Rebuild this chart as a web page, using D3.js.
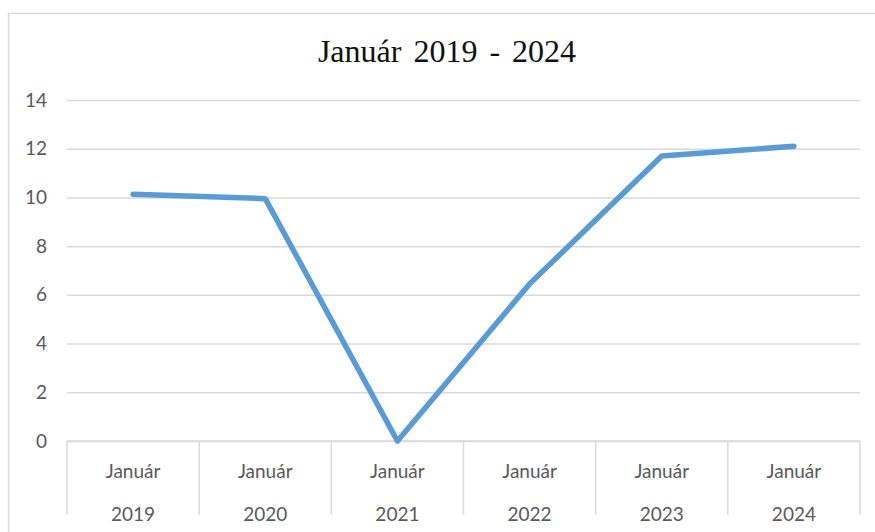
<!DOCTYPE html>
<html>
<head>
<meta charset="utf-8">
<script src="https://cdn.jsdelivr.net/npm/d3@7"></script>
<style>
  html, body { margin: 0; padding: 0; background: #fff; }
  svg { display: block; }
</style>
</head>
<body>
<svg id="chart" width="875" height="532"></svg>
<script>
const title = "Január 2019 - 2024";
const months = ["Január", "Január", "Január", "Január", "Január", "Január"];
const years = ["2019", "2020", "2021", "2022", "2023", "2024"];
const values = [10.13, 9.95, 0, 6.45, 11.7, 12.1];
const yTicks = [0, 2, 4, 6, 8, 10, 12, 14];

const svg = d3.select("#chart");
const W = 875, H = 532;
const mLeft = 67, mRight = 860, mTop = 100, mBottom = 441;
const labelFont = "Lato, 'Open Sans', sans-serif";
const gray = "#595959";
const gridColor = "#d9d9d9";

// chart area border (left + top)
svg.append("path")
  .attr("d", `M8.5,${H} L8.5,13.5 L${W},13.5`)
  .attr("fill", "none").attr("stroke", gridColor).attr("stroke-width", 1.5);

// title
svg.append("text")
  .attr("x", 447).attr("y", 62)
  .attr("text-anchor", "middle")
  .attr("font-family", "'Liberation Serif', 'Times New Roman', serif")
  .attr("font-size", 32)
  .attr("fill", "#111")
  .attr("word-spacing", 4)
  .text(title);

const x = d3.scaleBand().domain(years).range([mLeft, mRight]).padding(0);
const y = d3.scaleLinear().domain([0, 14]).range([mBottom, mTop]);

// gridlines
const yAxis = d3.axisLeft(y).tickValues(yTicks).tickSize(-(mRight - mLeft)).tickPadding(20);
const gy = svg.append("g").attr("transform", `translate(${mLeft},0)`).call(yAxis);
gy.select(".domain").remove();
gy.selectAll(".tick line").attr("stroke", gridColor).attr("stroke-width", 1.5);
gy.selectAll(".tick text")
  .attr("font-family", labelFont).attr("font-size", 19).attr("fill", gray);

// category axis box
const xAxis = d3.axisBottom(x).tickSize(0).tickFormat(() => "");
const gx = svg.append("g").attr("transform", `translate(0,${mBottom})`).call(xAxis);
gx.select(".domain").remove();
gx.append("line").attr("x1", mLeft).attr("x2", mRight).attr("y1", 0).attr("y2", 0)
  .attr("stroke", gridColor).attr("stroke-width", 1.5);
const seps = [mLeft].concat(years.map(d => x(d) + x.bandwidth()));
gx.selectAll("line.sep").data(seps).enter().append("line")
  .attr("class", "sep")
  .attr("x1", d => d).attr("x2", d => d)
  .attr("y1", 0).attr("y2", 74)
  .attr("stroke", gridColor).attr("stroke-width", 1.5);
gx.selectAll("text.m").data(years).enter().append("text")
  .attr("class", "m")
  .attr("x", d => x(d) + x.bandwidth() / 2).attr("y", 37)
  .attr("text-anchor", "middle")
  .attr("font-family", labelFont).attr("font-size", 19).attr("fill", gray)
  .text((d, i) => months[i]);
gx.selectAll("text.yr").data(years).enter().append("text")
  .attr("class", "yr")
  .attr("x", d => x(d) + x.bandwidth() / 2).attr("y", 80)
  .attr("text-anchor", "middle")
  .attr("font-family", labelFont).attr("font-size", 19).attr("fill", gray)
  .text(d => d);

// line
const line = d3.line()
  .x((d, i) => x(years[i]) + x.bandwidth() / 2)
  .y(d => y(d));
svg.append("path")
  .datum(values)
  .attr("d", line)
  .attr("fill", "none")
  .attr("stroke", "#5b9bd5")
  .attr("stroke-width", 5.5)
  .attr("stroke-linejoin", "round")
  .attr("stroke-linecap", "round");
</script>
</body>
</html>
